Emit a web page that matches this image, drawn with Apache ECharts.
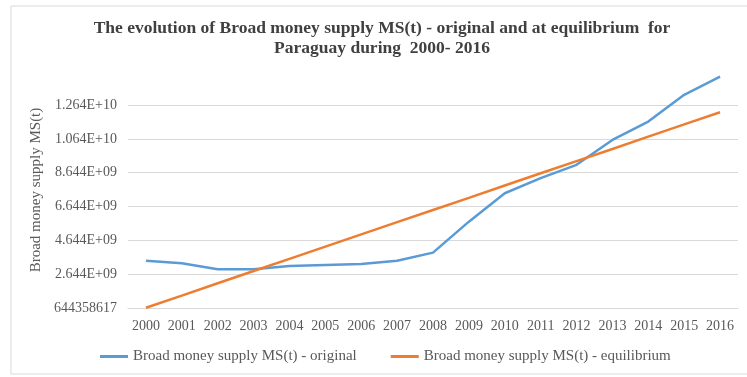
<!DOCTYPE html>
<html>
<head>
<meta charset="utf-8">
<script src="https://cdn.jsdelivr.net/npm/echarts@6/dist/echarts.min.js"></script>
<style>
  html, body { margin: 0; padding: 0; background: #ffffff; }
  #chart { width: 747px; height: 377px; }
</style>
</head>
<body>
<div id="chart"></div>
<script>
// Years on the category axis
const years = ['2000', '2001', '2002', '2003', '2004', '2005', '2006', '2007', '2008',
  '2009', '2010', '2011', '2012', '2013', '2014', '2015', '2016'];

// Broad money supply MS(t), original series
const msOriginal = [3.44e9, 3.29e9, 2.93e9, 2.93e9, 3.13e9, 3.19e9, 3.25e9, 3.44e9, 3.92e9,
  5.75e9, 7.43e9, 8.32e9, 9.11e9, 10.58e9, 11.67e9, 13.25e9, 14.33e9];

// Broad money supply MS(t), equilibrium series
const msEquilibrium = [0.66e9, 1.38e9, 2.11e9, 2.83e9, 3.55e9, 4.27e9, 5.00e9, 5.72e9, 6.44e9,
  7.16e9, 7.89e9, 8.61e9, 9.33e9, 10.05e9, 10.78e9, 11.50e9, 12.22e9];

// Value-axis ticks and their printed labels
const yTickValues = [644358617, 2644358617, 4644358617, 6644358617, 8644358617, 10644358617, 12644358617];
const yTickLabels = ['644358617', '2.644E+09', '4.644E+09', '6.644E+09', '8.644E+09', '1.064E+10', '1.264E+10'];

const serif = "'Liberation Serif', 'Times New Roman', serif";
const chart = echarts.init(document.getElementById('chart'), null, { renderer: 'canvas' });

chart.setOption({
  backgroundColor: '#ffffff',
  animation: false,
  graphic: [{
    type: 'rect',
    shape: { x: 11, y: 6, width: 745, height: 368 },
    style: { fill: 'none', stroke: '#d9d9d9', lineWidth: 1 },
    silent: true
  }],
  title: {
    text: 'The evolution of Broad money supply MS(t) - original and at equilibrium  for\nParaguay during  2000- 2016',
    left: 382,
    textAlign: 'center',
    top: 18,
    padding: 0,
    textStyle: {
      fontFamily: serif,
      fontWeight: 'bold',
      fontSize: 17.5,
      lineHeight: 20,
      color: '#404040'
    }
  },
  legend: {
    top: 349,
    left: 100,
    padding: 0,
    icon: 'rect',
    itemWidth: 28,
    itemHeight: 3,
    itemGap: 34,
    textStyle: { fontFamily: serif, fontSize: 15, color: '#595959' },
    data: ['Broad money supply MS(t) - original', 'Broad money supply MS(t) - equilibrium']
  },
  grid: { left: 128, right: 9, top: 72, bottom: 69, containLabel: false },
  xAxis: {
    type: 'category',
    data: years,
    boundaryGap: true,
    axisLine: { show: true, lineStyle: { color: '#d9d9d9' } },
    axisTick: { show: false },
    axisLabel: { fontFamily: serif, fontSize: 14, color: '#595959', margin: 11, interval: 0 }
  },
  yAxis: {
    type: 'value',
    min: 644358617,
    max: 14.6e9,
    name: 'Broad money supply MS(t)',
    nameLocation: 'middle',
    nameRotate: 90,
    nameGap: 82,
    nameTextStyle: { fontFamily: serif, fontSize: 15, color: '#595959' },
    axisLine: { show: false },
    axisTick: { show: false, customValues: yTickValues },
    splitLine: { show: true, lineStyle: { color: '#d9d9d9', width: 1 } },
    axisLabel: {
      customValues: yTickValues,
      fontFamily: serif,
      fontSize: 14,
      color: '#595959',
      margin: 11,
      formatter: function (v) {
        const i = yTickValues.indexOf(v);
        return i >= 0 ? yTickLabels[i] : '';
      }
    }
  },
  series: [
    {
      name: 'Broad money supply MS(t) - original',
      type: 'line',
      data: msOriginal,
      symbol: 'none',
      lineStyle: { color: '#5b9bd5', width: 2.5 },
      itemStyle: { color: '#5b9bd5' }
    },
    {
      name: 'Broad money supply MS(t) - equilibrium',
      type: 'line',
      data: msEquilibrium,
      symbol: 'none',
      lineStyle: { color: '#ed7d31', width: 2.5 },
      itemStyle: { color: '#ed7d31' }
    }
  ]
});
</script>
</body>
</html>
